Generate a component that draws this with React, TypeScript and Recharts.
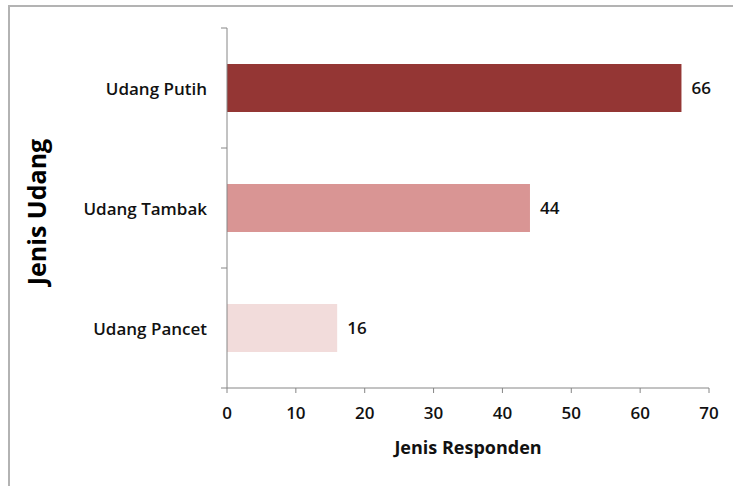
import React from "react";
import { Bar, BarChart, Cell, LabelList, XAxis, YAxis } from "recharts";

const categories = ["Udang Putih", "Udang Tambak", "Udang Pancet"];
const responden = [66, 44, 16];
const xTicks = [0, 10, 20, 30, 40, 50, 60, 70];

const palette = ["#943634", "#d99594", "#f2dcdb"];
const FONT = "'Open Sans', sans-serif";
const AXIS = "#868686";

const data = categories.map((name, i) => ({ name, value: responden[i] }));

function CategoryTick(props: any) {
  const { x, y, payload, index, visibleTicksCount } = props;
  const axisX = x + 20;
  const half = payload.offset || 0;
  return (
    <g>
      <text
        x={x}
        y={y}
        textAnchor="end"
        dominantBaseline="central"
        fontFamily={FONT}
        fontSize={17}
        fontWeight={600}
        fill="#111"
      >
        {payload.value}
      </text>
      <line x1={axisX - 6} x2={axisX} y1={y - half} y2={y - half} stroke={AXIS} />
      {index === visibleTicksCount - 1 && (
        <line x1={axisX - 6} x2={axisX} y1={y + half} y2={y + half} stroke={AXIS} />
      )}
    </g>
  );
}

export default function App() {
  return (
    <div
      style={{
        position: "absolute",
        left: 0,
        top: 0,
        width: 733,
        height: 486,
        overflow: "hidden",
        background: "#fff",
      }}
    >
      <div
        style={{
          position: "absolute",
          left: 8,
          top: 5,
          width: 760,
          height: 520,
          border: "2px solid #b3b3b3",
        }}
      />
      <div style={{ position: "absolute", left: 0, top: 0 }}>
        <BarChart
          width={733}
          height={486}
          data={data}
          layout="vertical"
          margin={{ top: 28, right: 24, bottom: 38, left: 0 }}
          barCategoryGap="30%"
        >
          <XAxis
            type="number"
            domain={[0, 70]}
            ticks={xTicks}
            interval={0}
            height={60}
            tickSize={5}
            tickMargin={14}
            stroke={AXIS}
            tick={{ fill: "#111", fontFamily: FONT, fontSize: 17, fontWeight: 600 }}
            label={{
              content: ({ viewBox }: any) => (
                <text
                  x={viewBox.x + viewBox.width / 2}
                  y={viewBox.y + 66}
                  textAnchor="middle"
                  fontFamily={FONT}
                  fontSize={18}
                  fontWeight="bold"
                  fill="#111"
                >
                  Jenis Responden
                </text>
              ),
            }}
          />
          <YAxis
            type="category"
            dataKey="name"
            width={227}
            tickLine={false}
            tickSize={0}
            tickMargin={20}
            stroke={AXIS}
            tick={<CategoryTick />}
            label={{
              content: ({ viewBox }: any) => {
                const cx = 36;
                const cy = viewBox.y + viewBox.height / 2 + 4;
                return (
                  <text
                    x={cx}
                    y={cy}
                    transform={`rotate(-90, ${cx}, ${cy})`}
                    textAnchor="middle"
                    dominantBaseline="central"
                    fontFamily={FONT}
                    fontSize={25}
                    fontWeight="bold"
                    fill="#000"
                  >
                    Jenis Udang
                  </text>
                );
              },
            }}
          />
          <Bar dataKey="value" isAnimationActive={false}>
            {data.map((entry, i) => (
              <Cell key={entry.name} fill={palette[i]} />
            ))}
            <LabelList
              dataKey="value"
              position="right"
              offset={10}
              fill="#111"
              fontFamily={FONT}
              fontSize={17}
              fontWeight={600}
            />
          </Bar>
        </BarChart>
      </div>
    </div>
  );
}
